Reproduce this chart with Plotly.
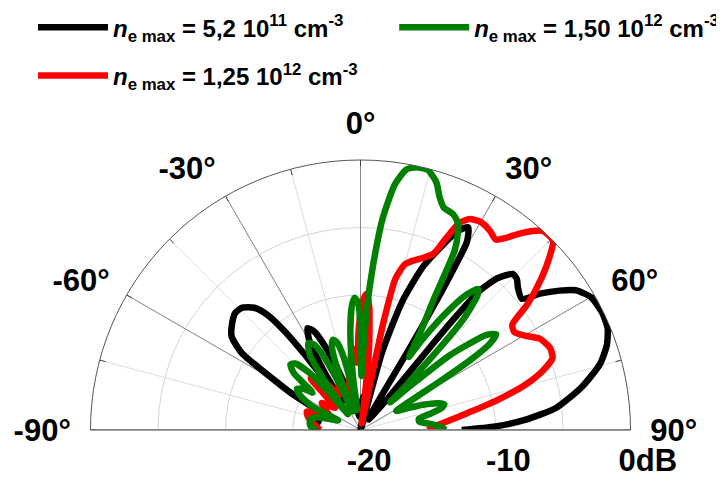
import plotly.graph_objects as go

# ---------------- data ----------------
# angle in degrees (0 = broadside/top, negative = left), level in dB
black_theta = [-90, -85, -80, -75, -70, -65, -62.5, -60.5, -57, -54, -50, -47, -44, -41, -39, -37.5,
               -36.5, -35, -33.5, -32, -30, -27.5, -25, -22, -19, -17, -10, -5, 0, 5, 10, 13,
               15.5, 18, 21, 24, 26, 28, 29.5, 30, 30.5, 31, 32, 36, 39, 40, 40.5, 42, 44.3, 46,
               48, 50.9, 52.8, 55, 57, 60, 64, 67.6, 71, 74.6, 79, 83.5, 86.5, 88.5, 90]
black_r = [-16.5, -16.5, -16.8, -16.8, -16.5, -16.1, -14.5, -13.1, -9.5, -8.2, -7.6, -7.3, -7.4, -8.0, -9.0, -10.8,
           -13.0, -16.5, -17.5, -15.0, -12.5, -11.5, -12.0, -14.0, -16.5, -18.5, -18.0, -19.0, -18.5, -17.5, -18.5, -20.0,
           -14.0, -10.0, -7.0, -5.0, -3.6, -3.0, -4.0, -6.0, -9.0, -13.0, -18.0, -19.0, -19.0, -10.0, -6.5, -4.9, -3.85, -3.9,
           -4.3, -4.6, -3.3, -2.0, -1.0, -0.3, -0.1, -0.2, -0.7, -1.6, -3.3, -5.4, -7.8, -10.0, -12.5]

red_theta = [-90, -82, -76, -71, -66, -60, -55, -49, -44, -40, -36, -32, -28, -24, -20, -14, -10, -6, -3,
             -1, 1, 2.5, 4, 6, 8, 10, 12, 13, 15, 17, 19, 22.4, 24, 25.5, 27.4, 30, 33, 35.4, 37,
             39.4, 42.5, 45.5, 47.5, 50, 53, 55.2, 57.5, 60.4, 63, 66.5, 69.4, 72, 74.6, 77.5, 80.4,
             83, 85.9, 88, 90]
red_r = [-17.0, -16.5, -16.0, -15.8, -17.5, -17.0, -16.5, -17.5, -14.7, -16.0, -15.8, -17.0, -16.5, -16.2, -17.5, -16.5, -15.5, -13.9, -15.0,
         -12.5, -10.5, -9.9, -10.8, -14.0, -18.5, -19.5, -12.0, -8.5, -7.3, -6.9, -6.6, -5.9, -4.5, -3.0, -2.4, -2.2, -2.4, -2.7, -2.2,
         -1.1, 0.0, 0.0, -1.0, -2.5, -4.5, -6.3, -6.5, -5.9, -5.1, -4.7, -4.8, -5.8, -7.3, -9.5, -11.6,
         -13.0, -14.1, -14.7, -15.0]

green_theta = [-90, -86, -82, -78, -74, -70, -67, -64, -60, -57, -54, -52, -49.5, -47, -44.5, -42, -40, -38.5,
               -36.5, -34, -31, -28.5, -26.5, -24.5, -23, -21, -19, -17, -15, -13, -11, -9.5, -8, -6, -4,
               -2.5, -1, 0, 1, 2, 3, 4.3, 6, 8, 10, 12, 14.5, 17, 18.8, 20.5, 23.2, 25, 26.4, 27.7, 29.3,
               31, 32.8, 33.5, 34.3, 36, 38, 39.8, 41, 42.8, 44, 45.5, 47, 48.5, 50, 51.5, 53, 54.8, 56.3,
               57.5, 58.5, 60, 62, 65, 68, 71, 73, 75, 77, 79, 82, 85, 88, 90]
green_r = [-16.8, -16.3, -16.2, -16.2, -16.6, -17.6, -18.2, -16.0, -14.8, -14.4, -14.8, -15.5, -13.5, -12.9, -13.1, -14.2, -16.5, -18.5,
           -16.0, -13.3, -12.5, -12.8, -14.0, -16.5, -18.5, -15.5, -13.5, -13.0, -13.3, -14.5, -17.0, -18.5, -16.0, -12.8, -10.8,
           -10.2, -10.6, -12.5, -16.0, -14.0, -11.0, -7.9, -4.2, -1.6, -0.4, -0.1, -0.1, -0.8, -1.8, -2.4, -2.6, -3.0, -3.8, -5.0, -9.0,
           -11.0, -12.9, -13.5, -12.0, -9.5, -7.3, -6.4, -6.8, -8.7, -11.5, -15.0, -17.0, -15.0, -11.5, -9.8, -8.3, -7.7, -8.5,
           -10.3, -13.0, -16.0, -17.0, -16.2, -15.0, -13.9, -13.5, -13.8, -14.8, -15.6, -15.6, -14.8, -14.0, -13.7]

series_names = [
    "<i>n</i><sub>e max</sub> = 5,2 10<sup>11</sup> cm<sup>-3</sup>",
    "<i>n</i><sub>e max</sub> = 1,25 10<sup>12</sup> cm<sup>-3</sup>",
    "<i>n</i><sub>e max</sub> = 1,50 10<sup>12</sup> cm<sup>-3</sup>",
]
series_colors = ["#000000", "#ff0000", "#008000"]
series_legends = ["legend", "legend", "legend2"]
series_groups = ["g1", "g2", "g3"]

angle_ticks = [-90, -75, -60, -45, -30, -15, 0, 15, 30, 45, 60, 75, 90]
angle_labels = ["-90°", "", "-60°", "", "-30°", "", "0°", "", "30°", "", "60°", "", "90°"]
major_angles = [-90, -60, -30, 0, 30, 60, 90]
radial_ticks = [-20, -15, -10, -5, 0]
# labels sit a little right of their rings in the reference (leading no-break spaces)
radial_labels = ["\u00a0\u00a0-20", "", "\u00a0\u00a0\u00a0-10", "", "\u00a0\u00a0\u00a0\u00a00dB"]

# ---------------- figure ----------------
fig = go.Figure()

# darker major spokes
spoke_t, spoke_r = [], []
for a in major_angles:
    spoke_t += [a, a, None]
    spoke_r += [-20, 0, None]
fig.add_trace(go.Scatterpolar(theta=spoke_t, r=spoke_r, mode="lines",
                              line=dict(color="#8a8a8a", width=1),
                              showlegend=False, hoverinfo="skip"))
# small inward ticks on the rim
tick_t, tick_r = [], []
for a in angle_ticks:
    tick_t += [a, a, None]
    tick_r += [-0.45, 0, None]
fig.add_trace(go.Scatterpolar(theta=tick_t, r=tick_r, mode="lines",
                              line=dict(color="#444444", width=1),
                              showlegend=False, hoverinfo="skip"))

for th, rr, name, col, lg, grp in zip([black_theta, red_theta, green_theta],
                                      [black_r, red_r, green_r],
                                      series_names, series_colors, series_legends, series_groups):
    fig.add_trace(go.Scatterpolar(theta=th, r=rr, mode="lines", name=name,
                                  line=dict(color=col, width=6.5, shape="spline", smoothing=0.6),
                                  legend=lg, legendgroup=grp))

legend_font = dict(size=24, family="Liberation Sans", weight="bold", color="black")

fig.update_layout(
    width=724, height=481,
    margin=dict(l=0, r=0, t=0, b=0, autoexpand=False),
    paper_bgcolor="white",
    font=dict(family="Liberation Sans", color="black"),
    polar=dict(
        sector=[0, 180],
        domain=dict(x=[82.5 / 724, 622.5 / 724], y=[59 / 481, 329 / 481]),
        bgcolor="white",
        angularaxis=dict(
            rotation=90, direction="clockwise", thetaunit="degrees",
            tickmode="array", tickvals=angle_ticks, ticktext=angle_labels,
            ticks="outside", ticklen=13, tickcolor="rgba(0,0,0,0)",
            showline=True, linecolor="#555555", linewidth=1,
            showgrid=True, gridcolor="#dcdcdc", gridwidth=1,
            tickfont=dict(size=31, family="Liberation Sans", weight="bold", color="black"),
        ),
        radialaxis=dict(
            range=[-20, 0], angle=0, side="clockwise",
            tickmode="array", tickvals=radial_ticks, ticktext=radial_labels,
            ticks="outside", ticklen=3, tickcolor="rgba(0,0,0,0)",
            showline=True, linecolor="#8a8a8a", linewidth=1,
            showgrid=True, gridcolor="#d4d4d4", gridwidth=1,
            tickfont=dict(size=31, family="Liberation Sans", weight="bold", color="black"),
        ),
    ),
    legend=dict(
        orientation="v", x=0.0345, y=1.006, xanchor="left", yanchor="top",
        font=legend_font, bgcolor="rgba(0,0,0,0)", itemwidth=70,
        tracegroupgap=14,
    ),
    legend2=dict(
        orientation="v", x=0.5334, y=1.006, xanchor="left", yanchor="top",
        font=legend_font, bgcolor="rgba(0,0,0,0)", itemwidth=70,
    ),
    showlegend=True,
)

fig.write_html("out.html")
